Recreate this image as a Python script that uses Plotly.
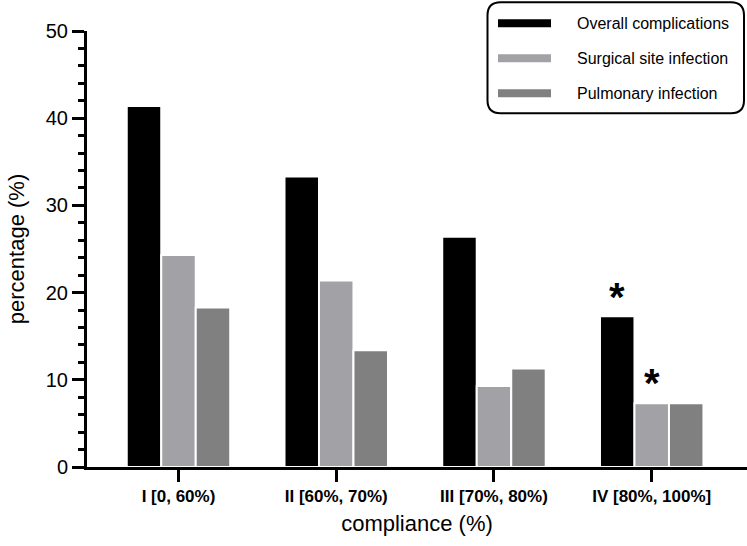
import plotly.graph_objects as go

categories = ["I [0, 60%)", "II [60%, 70%)", "III [70%, 80%)", "IV [80%, 100%]"]
series_names = ["Overall complications", "Surgical site infection", "Pulmonary infection"]
overall = [41.4, 33.3, 26.4, 17.3]
surgical = [24.3, 21.4, 9.3, 7.3]
pulmonary = [18.3, 13.4, 11.3, 7.3]
colors = ["#000000", "#a2a2a6", "#808080"]
y_ticks = [0, 10, 20, 30, 40, 50]

FONT = "Liberation Sans, Arial, sans-serif"

fig = go.Figure()
for name, vals, col in zip(series_names, [overall, surgical, pulmonary], colors):
    fig.add_trace(go.Bar(
        x=categories, y=vals, name=name,
        marker=dict(color=col, line=dict(color="white", width=2)),
        showlegend=False,
    ))

# significance asterisks
fig.add_annotation(x=categories[3], y=overall[3], xref="x", yref="y", text="<b>*</b>",
                   showarrow=False, xshift=-34.5, yanchor="bottom", yshift=-5,
                   font=dict(size=40, color="black", family=FONT))
fig.add_annotation(x=categories[3], y=surgical[3], xref="x", yref="y", text="<b>*</b>",
                   showarrow=False, xshift=0, yanchor="bottom", yshift=-4,
                   font=dict(size=40, color="black", family=FONT))

# manual legend (paper coords: x px 87..747, y px 466.7..30.7)
def px_x(p):
    return (p - 87) / 660.0

def px_y(p):
    return (466.7 - p) / 436.0

x0, x1, y0, y1, r = 487.5, 744, 2, 113, 13
path = (f"M {px_x(x0 + r)},{px_y(y0)} L {px_x(x1 - r)},{px_y(y0)} "
        f"Q {px_x(x1)},{px_y(y0)} {px_x(x1)},{px_y(y0 + r)} "
        f"L {px_x(x1)},{px_y(y1 - r)} Q {px_x(x1)},{px_y(y1)} {px_x(x1 - r)},{px_y(y1)} "
        f"L {px_x(x0 + r)},{px_y(y1)} Q {px_x(x0)},{px_y(y1)} {px_x(x0)},{px_y(y1 - r)} "
        f"L {px_x(x0)},{px_y(y0 + r)} Q {px_x(x0)},{px_y(y0)} {px_x(x0 + r)},{px_y(y0)} Z")
fig.add_shape(type="path", path=path, xref="paper", yref="paper",
              line=dict(color="black", width=2), fillcolor="white", layer="above")
for i, (name, col) in enumerate(zip(series_names, colors)):
    cy = 23 + 35 * i
    fig.add_shape(type="rect", xref="paper", yref="paper",
                  x0=px_x(498), x1=px_x(551), y0=px_y(cy - 4), y1=px_y(cy + 4),
                  fillcolor=col, line=dict(width=0), layer="above")
    fig.add_annotation(x=px_x(575), y=px_y(cy), xref="paper", yref="paper", text=name,
                       showarrow=False, xanchor="left", yanchor="middle",
                       font=dict(size=16, color="black", family=FONT))

fig.update_layout(
    width=747, height=546,
    margin=dict(l=87, r=0, t=30.7, b=79.3, autoexpand=False),
    plot_bgcolor="white", paper_bgcolor="white",
    barmode="group", bargap=0.344, bargroupgap=0,
    font=dict(family=FONT, color="black"),
    xaxis=dict(
        range=[-0.58, 3.604], showline=True, linecolor="black", linewidth=3,
        ticks="outside", ticklen=12, tickwidth=3, tickcolor="black",
        tickfont=dict(size=17, family=FONT, weight="bold"),
        title=dict(text="compliance (%)", font=dict(size=22), standoff=11),
        showgrid=False, zeroline=False, automargin=False,
    ),
    yaxis=dict(
        range=[0, 50], showline=True, linecolor="black", linewidth=3,
        tickvals=y_ticks, ticks="outside", ticklen=12, tickwidth=3, tickcolor="black",
        tickfont=dict(size=20, family=FONT),
        minor=dict(dtick=2, ticks="outside", ticklen=6, tickwidth=3, tickcolor="black", showgrid=False),
        title=dict(text="percentage (%)", font=dict(size=22), standoff=16),
        showgrid=False, zeroline=False, automargin=False,
    ),
)

fig.write_html("out.html", config={"displayModeBar": False},
               post_script="document.body.style.margin='0';")
